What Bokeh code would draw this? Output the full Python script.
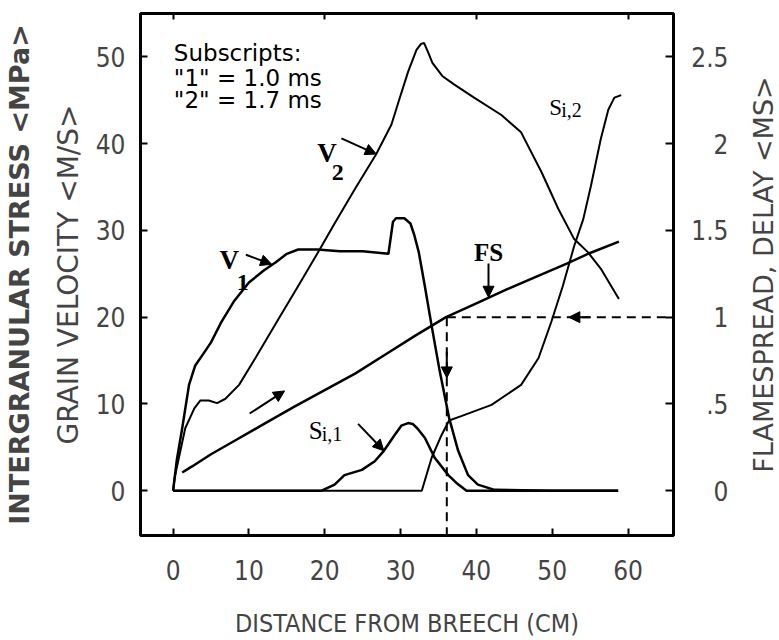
from bokeh.plotting import figure
from bokeh.layouts import row
from bokeh.models import Range1d, LinearAxis, Label, Arrow, NormalHead, FixedTicker
from bokeh.embed import file_html
from bokeh.resources import INLINE

# ---------------- data (distance from breech, cm) ----------------
V1_X = [0.0, 0.5, 1.2, 2.1, 2.9, 4.0, 5.0, 6.4, 8.0, 10.0, 12.0, 13.5, 15.0, 16.5, 19.0, 22.0, 25.0,
        28.4, 29.0, 29.4, 30.5, 31.3, 31.8, 32.4, 33.2, 34.1, 35.1, 36.4, 37.6, 38.9, 40.2, 42.4, 50.0, 58.7]
V1_Y = [0.0, 3.6, 7.2, 12.2, 14.4, 15.8, 17.1, 19.5, 21.8, 24.0, 25.4, 26.3, 27.3, 27.8, 27.8, 27.6, 27.6,
        27.3, 31.0, 31.4, 31.4, 30.8, 29.5, 27.5, 23.6, 19.0, 14.1, 8.4, 4.6, 1.8, 0.7, 0.1, 0.0, 0.0]

V2_X = [0.0, 0.2, 1.6, 2.8, 3.6, 4.7, 5.8, 6.9, 8.7, 10.8, 13.9, 16.5, 19.2, 21.3, 24.0, 26.8, 28.8, 29.8,
        31.0, 32.1, 32.7, 33.1, 33.6, 34.2, 35.5, 37.1, 39.7, 43.3, 45.9, 48.6, 50.8, 52.9, 54.7, 56.4, 58.8]
V2_Y = [0.0, 1.5, 7.2, 9.5, 10.4, 10.4, 10.1, 10.6, 12.2, 15.2, 19.8, 23.6, 27.6, 30.8, 34.8, 38.8, 42.2, 45.0,
        48.3, 50.8, 51.5, 51.6, 50.6, 49.3, 47.8, 46.8, 45.3, 43.3, 41.3, 36.7, 32.5, 29.0, 27.5, 25.6, 22.1]

SI1_X = [0.0, 19.6, 21.3, 22.6, 24.9, 26.6, 27.8, 29.2, 30.1, 31.0, 31.6, 32.2, 33.2, 34.5, 36.3, 37.5, 38.7, 42.0, 58.7]
SI1_Y = [0.0, 0.0, 0.7, 1.8, 2.4, 3.4, 4.6, 6.4, 7.5, 7.8, 7.7, 7.2, 6.1, 3.8, 1.8, 0.8, 0.0, 0.0, 0.0]

SI2_X = [0.0, 32.8, 34.1, 35.4, 36.4, 38.0, 42.0, 45.9, 48.2, 49.9, 51.4, 52.9, 54.1, 55.1, 56.4, 57.4, 58.2, 59.1]
SI2_Y = [0.0, 0.0, 3.8, 6.4, 8.1, 8.6, 9.9, 12.2, 15.3, 19.5, 23.6, 28.2, 31.3, 35.1, 40.5, 43.9, 45.3, 45.6]

FS_X = [1.2, 2.5, 5.0, 8.0, 12.0, 16.0, 20.0, 24.0, 28.0, 32.0, 36.0, 40.0, 44.0, 48.0, 52.0, 55.0, 58.8]
FS_MS = [0.105, 0.14, 0.21, 0.285, 0.385, 0.485, 0.58, 0.675, 0.785, 0.895, 1.0, 1.08, 1.16, 1.235, 1.31, 1.37, 1.435]

# flamespread read-off: delay of 1.0 ms reached at ~36 cm
GUIDE_MS = 1.0
GUIDE_X = 36.1

X_TICKS = [0, 10, 20, 30, 40, 50, 60]
TOP_TICKS = [0, 20, 40, 60]
Y_TICKS = [0, 10, 20, 30, 40, 50]
FS_TICKS = [0, 0.5, 1, 1.5, 2, 2.5]
FS_TICK_LABELS = ["0", ".5", "1", "1.5", "2", "2.5"]

LEGEND_LINES = ["Subscripts:", '"1" = 1.0 ms', '"2" = 1.7 ms']

# ---------------- main figure ----------------
COND = "DejaVu Sans Condensed"
X0, X1 = -4.3, 66.0
FS_LO, FS_HI = -0.258, 2.75
p = figure(width=680, height=640,
           x_range=Range1d(X0, X1), y_range=Range1d(-5.16, 55.0),
           output_backend="svg", toolbar_location=None,
           min_border_left=138, min_border_right=7, min_border_top=13, min_border_bottom=102)
p.extra_y_ranges = {"fs": Range1d(FS_LO, FS_HI)}
p.xgrid.visible = False
p.ygrid.visible = False
p.outline_line_color = "black"
p.outline_line_width = 3
p.background_fill_color = "white"
p.border_fill_color = "white"

# bottom axis
xa = p.xaxis[0]
xa.ticker = FixedTicker(ticks=X_TICKS)
xa.axis_line_color = None
xa.major_tick_in = 7
xa.major_tick_out = 0
xa.major_tick_line_width = 2
xa.minor_tick_line_color = None
xa.major_label_text_font = COND
xa.major_label_text_font_size = "26px"
xa.major_label_standoff = 24
xa.axis_label = "DISTANCE FROM BREECH (CM)"
xa.axis_label_text_font = COND
xa.axis_label_text_font_size = "25px"
xa.axis_label_text_font_style = "normal"
xa.axis_label_standoff = 26

# top ticks only
ta = LinearAxis(ticker=FixedTicker(ticks=TOP_TICKS),
                major_label_overrides={t: "" for t in TOP_TICKS},
                axis_line_color=None, major_tick_in=6, major_tick_out=0, major_tick_line_width=2,
                minor_tick_line_color=None, major_label_standoff=0, major_label_text_font_size="1px")
p.add_layout(ta, "above")

# inner left axis
ya = p.yaxis[0]
ya.ticker = FixedTicker(ticks=Y_TICKS)
ya.axis_line_color = None
ya.major_tick_in = 7
ya.major_tick_out = 0
ya.major_tick_line_width = 2
ya.minor_tick_line_color = None
ya.major_label_text_font = COND
ya.major_label_text_font_size = "26px"
ya.major_label_standoff = 15
ya.axis_label = "GRAIN VELOCITY <M/S>"
ya.axis_label_text_font = "DejaVu Sans"
ya.axis_label_text_font_size = "28px"
ya.axis_label_text_font_style = "normal"
ya.axis_label_standoff = 8

# outer left label axis
outer = LinearAxis(ticker=FixedTicker(ticks=[]), axis_line_color=None,
                   major_tick_in=0, major_tick_out=0, minor_tick_line_color=None,
                   major_label_standoff=0,
                   axis_label="INTERGRANULAR STRESS <MPa>",
                   axis_label_text_font="DejaVu Sans", axis_label_text_font_size="27px",
                   axis_label_text_font_style="bold", axis_label_standoff=14)
p.add_layout(outer, "left")

# right-hand tick marks (labels are drawn by the side panel figure)
ra = LinearAxis(y_range_name="fs", ticker=FixedTicker(ticks=FS_TICKS),
                major_label_overrides={t: "" for t in FS_TICKS},
                axis_line_color=None, major_tick_in=8, major_tick_out=0, major_tick_line_width=2,
                minor_tick_line_color=None, major_label_standoff=0, major_label_text_font_size="1px")
p.add_layout(ra, "right")

# ---------------- curves ----------------
LW = 2
p.line(SI1_X, SI1_Y, line_color="black", line_width=LW + 0.5)
p.line(SI2_X, SI2_Y, line_color="black", line_width=LW)
p.line(V1_X, V1_Y, line_color="black", line_width=LW + 0.5)
p.line(V2_X, V2_Y, line_color="black", line_width=LW)
p.line(FS_X, FS_MS, line_color="black", line_width=LW + 0.5, y_range_name="fs")

# dashed read-off lines
p.line([GUIDE_X, X1], [GUIDE_MS, GUIDE_MS], y_range_name="fs",
       line_color="black", line_width=2, line_dash="9 6")
p.line([GUIDE_X, GUIDE_X], [GUIDE_MS, FS_LO], y_range_name="fs",
       line_color="black", line_width=2, line_dash="9 6")

def head():
    return NormalHead(size=11, fill_color="black", line_color="black", line_width=1)

p.add_layout(Arrow(end=head(), x_start=55.0, y_start=GUIDE_MS, x_end=52.2, y_end=GUIDE_MS,
                   y_range_name="fs", line_width=2))
p.add_layout(Arrow(end=head(), x_start=GUIDE_X, y_start=0.8, x_end=GUIDE_X, y_end=0.65,
                   y_range_name="fs", line_width=2))

# pointer arrows
p.add_layout(Arrow(end=head(), x_start=9.6, y_start=27.2, x_end=13.0, y_end=26.1, line_width=2))
p.add_layout(Arrow(end=head(), x_start=22.2, y_start=40.6, x_end=26.8, y_end=38.8, line_width=2))
p.add_layout(Arrow(end=head(), x_start=24.4, y_start=7.7, x_end=27.8, y_end=4.6, line_width=2))
p.add_layout(Arrow(end=head(), x_start=41.6, y_start=26.2, x_end=41.6, y_end=22.3, line_width=2))
p.add_layout(Arrow(end=head(), x_start=10.1, y_start=8.9, x_end=14.7, y_end=11.5, line_width=2))

# ---------------- text ----------------
SERIF = "Liberation Serif"
def lab(x, y, text, font, size, style="normal", align="left", baseline="alphabetic"):
    p.add_layout(Label(x=x, y=y, text=text, text_font=font, text_font_size=size,
                       text_font_style=style, text_align=align, text_baseline=baseline,
                       text_color="black"))

for i, line in enumerate(LEGEND_LINES):
    lab(0.1, [52.0, 49.1, 46.5][i], line, "DejaVu Sans", "23px", baseline="top")

lab(7.4, 26.6, "V", SERIF, "27px", "bold", "center", "alphabetic")
lab(9.2, 24.0, "1", SERIF, "24px", "bold", "center", "alphabetic")
lab(20.3, 38.9, "V", SERIF, "27px", "bold", "center", "alphabetic")
lab(21.7, 36.7, "2", SERIF, "24px", "bold", "center", "alphabetic")
lab(41.6, 27.4, "FS", SERIF, "25px", "bold", "center", "middle")

lab(17.9, 6.9, "S", SERIF, "25px")
lab(19.6, 6.5, "i,1", SERIF, "20px")
lab(49.6, 44.2, "S", SERIF, "23px")
lab(51.2, 43.9, "i,2", SERIF, "20px")

# ---------------- right-hand scale panel (flamespread delay, ms) ----------------
q = figure(width=99, height=640, x_range=Range1d(0, 1), y_range=Range1d(FS_LO, FS_HI),
           output_backend="svg", toolbar_location=None,
           min_border_left=98, min_border_right=0, min_border_top=13, min_border_bottom=102)
q.xaxis.visible = False
q.xgrid.visible = False
q.ygrid.visible = False
q.outline_line_color = None
q.background_fill_color = "white"
q.border_fill_color = "white"

qa = q.yaxis[0]                       # inner: the title
qa.ticker = FixedTicker(ticks=[])
qa.axis_line_color = None
qa.major_tick_in = 0
qa.major_tick_out = 0
qa.minor_tick_line_color = None
qa.major_label_standoff = 0
qa.axis_label = "FLAMESPREAD, DELAY <MS>"
qa.axis_label_text_font = "DejaVu Sans"
qa.axis_label_text_font_size = "27px"
qa.axis_label_text_font_style = "normal"
qa.axis_label_standoff = 0

qb = LinearAxis(ticker=FixedTicker(ticks=FS_TICKS),   # outer: right-aligned tick labels
                major_label_overrides={t: s for t, s in zip(FS_TICKS, FS_TICK_LABELS)},
                axis_line_color=None, major_tick_in=0, major_tick_out=0,
                minor_tick_line_color=None, major_label_standoff=16,
                major_label_text_font=COND, major_label_text_font_size="26px")
q.add_layout(qb, "left")

open("out.html", "w").write(file_html(row(p, q, spacing=0), INLINE))
